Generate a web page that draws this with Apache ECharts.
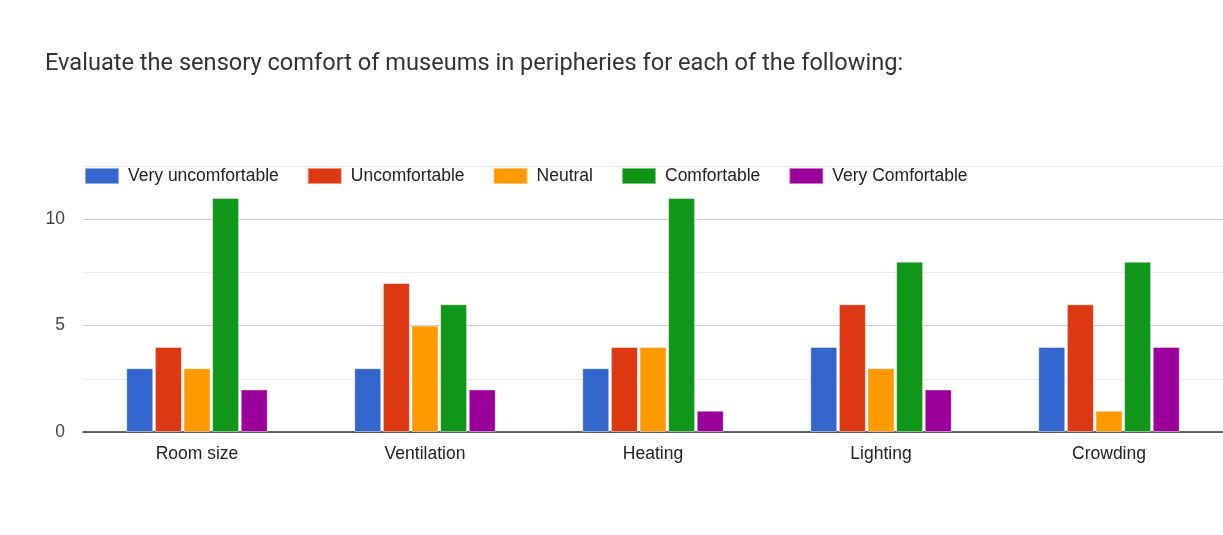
<!DOCTYPE html>
<html>
<head>
<meta charset="utf-8">
<script src="https://cdn.jsdelivr.net/npm/echarts@6/dist/echarts.min.js"></script>
<style>
  html, body { margin: 0; padding: 0; background: #fff; }
  #chart { width: 1223px; height: 535px; }
</style>
</head>
<body>
<div id="chart"></div>
<script>
const titleText = 'Evaluate the sensory comfort of museums in peripheries for each of the following:';
const categories = ['Room size', 'Ventilation', 'Heating', 'Lighting', 'Crowding'];
const seriesNames = ['Very uncomfortable', 'Uncomfortable', 'Neutral', 'Comfortable', 'Very Comfortable'];
const veryUncomfortable = [3, 3, 3, 4, 4];
const uncomfortable = [4, 7, 4, 6, 6];
const neutral = [3, 5, 4, 3, 1];
const comfortable = [11, 6, 11, 8, 8];
const veryComfortable = [2, 2, 1, 2, 4];
const colors = ['#3366cc', '#dc3912', '#ff9900', '#109618', '#990099'];

const seriesValues = [veryUncomfortable, uncomfortable, neutral, comfortable, veryComfortable];
const titleFont = 'Roboto, Arial, sans-serif';
const labelFont = '"Liberation Sans", Arial, sans-serif';

const chart = echarts.init(document.getElementById('chart'), null, { renderer: 'canvas' });
chart.setOption({
  animation: false,
  backgroundColor: '#ffffff',
  color: colors,
  title: {
    text: titleText,
    left: 40,
    top: 47,
    textStyle: { fontFamily: titleFont, fontSize: 23.6, fontWeight: 'normal', color: '#333333' }
  },
  legend: {
    data: seriesNames,
    left: 84,
    top: 167,
    padding: 0,
    itemWidth: 34,
    itemHeight: 16,
    itemGap: 28,
    icon: 'rect',
    textStyle: { fontFamily: labelFont, fontSize: 17.5, color: '#222222', padding: [0, 0, 0, 4] }
  },
  grid: { left: 83, right: 0, top: 166, bottom: 103, containLabel: false },
  xAxis: {
    type: 'category',
    data: categories,
    axisLine: { lineStyle: { color: '#333333', width: 1.5 } },
    axisTick: { show: false },
    axisLabel: { fontFamily: labelFont, fontSize: 17.5, color: '#222222', margin: 13 },
    splitLine: { show: false }
  },
  yAxis: {
    type: 'value',
    min: 0,
    max: 12.5,
    interval: 2.5,
    axisLine: { show: false },
    axisTick: { show: false },
    axisLabel: {
      fontFamily: labelFont, fontSize: 17.5, color: '#444444', margin: 18,
      formatter: v => (v % 5 === 0 ? String(v) : '')
    },
    splitLine: { lineStyle: { color: ['#cccccc', '#ebebeb'], width: 1 } }
  },
  series: seriesNames.map((name, i) => ({
    name: name,
    type: 'bar',
    data: seriesValues[i],
    barWidth: 27,
    barGap: '6%',
    itemStyle: { color: colors[i], borderColor: 'rgba(255,255,255,0.45)', borderWidth: 1 }
  }))
});
</script>
</body>
</html>
